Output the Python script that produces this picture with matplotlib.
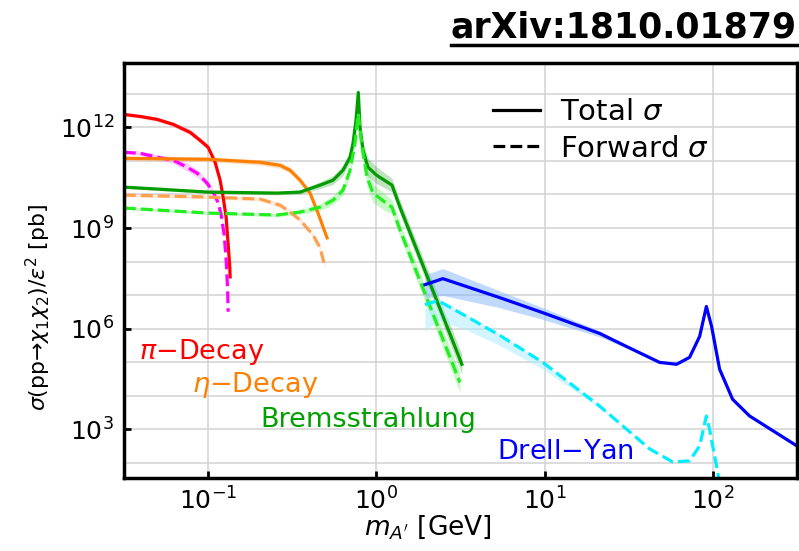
import numpy as np
import matplotlib
matplotlib.use("Agg")
import matplotlib.pyplot as plt
from matplotlib.lines import Line2D
from matplotlib.ticker import NullFormatter, NullLocator

# ---- data (mass in GeV, cross section in pb) ----
# pi0 decay, total
pi_x = [0.0316, 0.0395, 0.0498, 0.0620, 0.0782, 0.0896, 0.100, 0.110, 0.1178, 0.1227, 0.1279, 0.1315, 0.1342, 0.1351]
pi_y = [2.43e12, 2.12e12, 1.73e12, 1.23e12, 7.1e11, 4.1e11, 2.55e11, 9.1e10, 2.67e10, 8.4e9, 2.1e9, 3.2e8, 8.0e7, 3.5e7]
pi_err = [0.05, 0.05, 0.06, 0.07, 0.08, 0.08, 0.08, 0.06, 0.05, 0.05, 0.05, 0.05, 0.05, 0.05]
# pi0 decay, forward
pif_x = [0.0316, 0.0395, 0.0498, 0.0620, 0.0750, 0.0861, 0.0986, 0.1071, 0.1147, 0.1195, 0.1245, 0.1279, 0.1305, 0.1315]
pif_y = [1.81e11, 1.69e11, 1.29e11, 1.05e11, 6.5e10, 4.3e10, 2.18e10, 1.18e10, 5.6e9, 2.45e9, 6.2e8, 1.13e8, 1.46e7, 3.2e6]
pif_err = [0.05, 0.06, 0.08, 0.10, 0.12, 0.12, 0.10, 0.08, 0.06, 0.05, 0.05, 0.05, 0.05, 0.05]

# eta decay, total
eta_x = [0.0316, 0.100, 0.2035, 0.2675, 0.3066, 0.3516, 0.4030, 0.4495, 0.5085]
eta_y = [1.2e11, 1.12e11, 9.1e10, 7.4e10, 5.3e10, 2.67e10, 1.1e10, 2.8e9, 5.1e8]
eta_err = [0.06, 0.07, 0.08, 0.09, 0.09, 0.08, 0.06, 0.05, 0.05]
# eta decay, forward
etaf_x = [0.0316, 0.100, 0.2035, 0.2675, 0.3066, 0.3516, 0.4198, 0.4620, 0.4946]
etaf_y = [9.6e9, 8.4e9, 7.3e9, 4.8e9, 3.0e9, 1.74e9, 6.2e8, 2.6e8, 7.0e7]
etaf_err = [0.05, 0.05, 0.06, 0.07, 0.07, 0.06, 0.05, 0.05, 0.05]

# bremsstrahlung, total
brem_x = [0.0316, 0.100, 0.2567, 0.3516, 0.462, 0.552, 0.6326, 0.6963, 0.7253, 0.7556, 0.78, 0.7984,
          0.8316, 0.8903, 1.0, 1.236, 1.379, 3.218]
brem_y = [1.66e10, 1.18e10, 1.1e10, 1.18e10, 1.9e10, 2.67e10, 5.3e10, 1.29e11, 3.35e11, 1.61e12, 1.1e13, 1.0e12,
          2.08e11, 6.5e10, 3.77e10, 1.9e10, 4.2e9, 8.7e4]
brem_err = [0.04, 0.04, 0.05, 0.06, 0.10, 0.13, 0.15, 0.15, 0.15, 0.15, 0.15, 0.20, 0.25, 0.28, 0.25, 0.20, 0.20, 0.30]
# bremsstrahlung, forward
bremf_x = [0.0316, 0.100, 0.2567, 0.3516, 0.462, 0.552, 0.6326, 0.6963, 0.7454, 0.78, 0.8203, 0.8783,
           0.9532, 1.123, 1.236, 1.379, 3.13]
bremf_y = [3.95e9, 2.8e9, 2.45e9, 3.0e9, 4.2e9, 6.8e9, 1.35e10, 5.3e10, 3.35e11, 2.6e12, 2.55e11, 3.3e10,
           1.1e10, 5.9e9, 4.2e9, 8.8e8, 2.5e4]
bremf_err = [0.04, 0.04, 0.05, 0.06, 0.10, 0.13, 0.15, 0.15, 0.15, 0.15, 0.20, 0.25, 0.28, 0.25, 0.20, 0.20, 0.30]

# Drell-Yan, total
dy_x = [1.94, 2.48, 5.41, 9.73, 21.2, 33.3, 48.1, 60.7, 72.5, 83.2, 91.2, 98.0, 109.3, 130.5, 164.7, 315.0]
dy_y = [2.05e7, 3.1e7, 8.4e6, 3.0e6, 7.2e5, 2.4e5, 9.9e4, 8.7e4, 1.4e5, 5.9e5, 4.6e6, 1.16e6, 6.2e4, 7.9e3, 2.5e3, 3.2e2]
dy_up = [0.30, 0.30, 0.20, 0.15, 0.08, 0.03, 0, 0, 0, 0, 0, 0, 0, 0, 0, 0]
dy_dn = [0.40, 0.50, 0.30, 0.20, 0.10, 0.04, 0, 0, 0, 0, 0, 0, 0, 0, 0, 0]
# Drell-Yan, forward
dyf_x = [1.94, 2.32, 3.44, 5.41, 9.73, 21.2, 42.0, 57.5, 72.5, 83.2, 91.2, 95.3, 106.4, 112.3]
dyf_y = [5.2e6, 6.9e6, 2.3e6, 6.3e5, 9.9e4, 4.9e3, 2.6e2, 1.07e2, 1.15e2, 3.2e2, 2.5e3, 1.0e3, 54, 12]
dyf_up = [0.05, 0.05, 0.04, 0.03, 0.02, 0, 0, 0, 0, 0, 0, 0, 0, 0]
dyf_dn = [0.80, 0.60, 0.40, 0.30, 0.20, 0.05, 0, 0, 0, 0, 0, 0, 0, 0]

x_ticks = [1e-1, 1e0, 1e1, 1e2]
y_ticks = [1e3, 1e6, 1e9, 1e12]
y_grid = [1e2, 1e3, 1e4, 1e5, 1e6, 1e7, 1e8, 1e9, 1e10, 1e11, 1e12, 1e13]


def band(ax, x, y, up, dn, color, alpha):
    y = np.asarray(y)
    lo = y / 10 ** np.asarray(dn)
    hi = y * 10 ** np.asarray(up)
    ax.fill_between(x, lo, hi, color=color, alpha=alpha, lw=0)


fig = plt.figure(figsize=(7.99, 5.51), dpi=100)
ax = fig.add_axes([0.1552, 0.1325, 0.8423, 0.7532])
ax.set_xscale('log')
ax.set_yscale('log')
ax.set_xlim(10 ** -1.5, 10 ** 2.4985)
ax.set_ylim(10 ** 1.55, 10 ** 13.92)

# uncertainty bands
band(ax, pi_x, pi_y, pi_err, pi_err, '#ff8080', 0.35)
band(ax, pif_x, pif_y, pif_err, pif_err, '#ff80ff', 0.35)
band(ax, eta_x, eta_y, eta_err, eta_err, '#ffb070', 0.4)
band(ax, etaf_x, etaf_y, etaf_err, etaf_err, '#ffc8a0', 0.4)
band(ax, brem_x, brem_y, brem_err, brem_err, '#30a030', 0.3)
band(ax, bremf_x, bremf_y, bremf_err, bremf_err, '#40f040', 0.3)
band(ax, dy_x, dy_y, dy_up, dy_dn, '#80b4ff', 0.5)
band(ax, dyf_x, dyf_y, dyf_up, dyf_dn, '#a8ecff', 0.5)

lw = 2.3
ax.plot(pi_x, pi_y, color='#ff0000', lw=lw)
ax.plot(pif_x, pif_y, color='#ff00ff', lw=lw, ls='--')
ax.plot(eta_x, eta_y, color='#ff8000', lw=lw)
ax.plot(etaf_x, etaf_y, color='#ffa050', lw=lw, ls='--')
ax.plot(brem_x, brem_y, color='#009c00', lw=lw)
ax.plot(bremf_x, bremf_y, color='#22ee22', lw=lw, ls='--')
ax.plot(dy_x, dy_y, color='#0000ff', lw=lw)
ax.plot(dyf_x, dyf_y, color='#00eeff', lw=lw, ls='--')

# grid and ticks
ax.set_xticks(x_ticks)
ax.xaxis.set_minor_locator(NullLocator())
ax.set_yticks(y_ticks)
ax.set_yticks(y_grid, minor=True)
ax.yaxis.set_minor_formatter(NullFormatter())
ax.grid(True, which='major', color='#d2d2d2', lw=1.1)
ax.grid(True, which='minor', axis='y', color='#d2d2d2', lw=1.1)
ax.set_axisbelow(True)
ax.tick_params(which='major', direction='in', length=5, width=2, labelsize=18, pad=7)
ax.tick_params(which='minor', length=0)
for s in ax.spines.values():
    s.set_linewidth(2.5)

ax.set_xlabel(r"$m_{A'}$ [GeV]", fontsize=19)
ax.xaxis.set_label_coords(0.452, -0.085)
ax.set_ylabel('$\\sigma$(pp\u2192$\\chi_1\\chi_2$)/$\\varepsilon^2$ [pb]', fontsize=15.8)
ax.yaxis.set_label_coords(-0.105, 0.41)

# curve labels
ax.text(0.022, 0.303, r'$\pi$$-$Decay', color='#ff0000', fontsize=19.5, transform=ax.transAxes, va='center')
ax.text(0.101, 0.225, r'$\eta$$-$Decay', color='#ff8000', fontsize=19.5, transform=ax.transAxes, va='center')
ax.text(0.202, 0.140, 'Bremsstrahlung', color='#00a000', fontsize=19.5, transform=ax.transAxes, va='center')
ax.text(0.554, 0.062, r'Drell$-$Yan', color='#0000ff', fontsize=19.5, transform=ax.transAxes, va='center')

# legend
handles = [Line2D([], [], color='black', lw=lw), Line2D([], [], color='black', lw=lw, ls='--')]
ax.legend(handles, [r'Total $\sigma$', r'Forward $\sigma$'], loc='upper left',
          bbox_to_anchor=(0.518, 0.965), frameon=False, fontsize=21, handlelength=1.6,
          handletextpad=0.7, labelspacing=0.3, borderpad=0.2)

# title with underline
title = fig.text(0.9975, 1 - 37 / 551, 'arXiv:1810.01879', fontsize=25, fontweight='bold',
                 ha='right', va='baseline')
fig.canvas.draw()
bb = title.get_window_extent(fig.canvas.get_renderer())
uy = 1 - 45 / 551
fig.add_artist(Line2D([bb.x0 / fig.bbox.width, bb.x1 / fig.bbox.width], [uy, uy],
                      transform=fig.transFigure, color='black', lw=2.5))

fig.savefig('out.png', dpi=100)
